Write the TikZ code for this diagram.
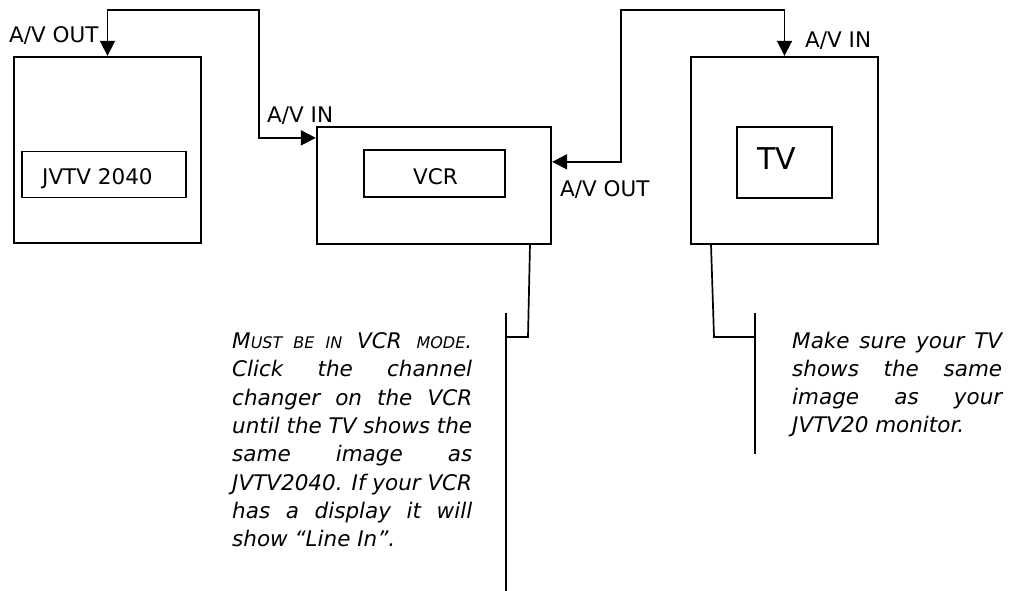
\documentclass[tikz,border=0pt]{standalone}
\usepackage{fontspec}
\setmainfont{DejaVu Sans}
\usetikzlibrary{arrows.meta,calc}
\begin{document}
\begin{tikzpicture}[x=1pt,y=-1pt,
  outerbox/.style={draw,line width=2.3pt,inner sep=0pt},
  innerbox/.style={draw,line width=1.7pt,inner sep=0pt},
  conn/.style={line width=1.7pt,{Triangle[length=15pt,width=15pt]}-{Triangle[length=15pt,width=15pt]}},
  callout/.style={line width=1.7pt},
  lbl/.style={inner sep=0pt,anchor=base west,font=\fontsize{21.5}{26}\selectfont},
  note/.style={inner sep=0pt,anchor=north west,align=justify,font=\fontsize{21.5}{28.3}\selectfont\itshape}]
\useasboundingbox (0,0) rectangle (1012,591);
% boxes
\node[outerbox,minimum width=187pt,minimum height=186pt] (src) at (107.5,150) {};
\node[innerbox,minimum width=164pt,minimum height=46pt] (srcin) at (104,174.5) {};
\node[lbl] (srct) at (42,184) {JVTV 2040};
\node[outerbox,minimum width=234pt,minimum height=117pt] (vcr) at (434,185.5) {};
\node[innerbox,minimum width=141pt,minimum height=47pt] (vcrin) at (434.5,173.5) {};
\node[lbl] (vcrt) at (413,184) {VCR};
\node[outerbox,minimum width=187pt,minimum height=187pt] (tv) at (784.5,150.5) {};
\node[innerbox,minimum width=95pt,minimum height=71pt] (tvin) at (784.5,162.5) {};
\node[lbl,font=\fontsize{30}{34}\selectfont] (tvt) at (757,169) {TV};
% labels
\node[lbl] (l1) at (9,43) {A/V OUT};
\node[lbl] (l2) at (267,123) {A/V IN};
\node[lbl] (l3) at (560,196) {A/V OUT};
\node[lbl] (l4) at (805,48) {A/V IN};
% connectors
\coordinate (vcrinpt) at ($(vcr.north west)+(0,12)$);
\coordinate (vcroutpt) at ($(vcr.north east)+(0,36)$);
\coordinate (c1) at (107.5,10);
\coordinate (c2) at (259,10);
\coordinate (c3) at (621,10);
\coordinate (c4) at (784.5,10);
\draw[conn] (src.north) -- (c1) -- (c2) |- (vcrinpt);
\draw[conn] (vcroutpt) -| (c3) -- (c4) -- (tv.north);
% callouts
\coordinate (v1) at (530,244);
\coordinate (v2) at (528,337);
\coordinate (v3) at (506,337);
\coordinate (vt) at (506,313);
\coordinate (vb) at (506,591);
\draw[callout] (v1) -- (v2) -- (v3);
\draw[callout] (vt) -- (vb);
\coordinate (t1) at (711,244);
\coordinate (t2) at (714,337);
\coordinate (t3) at (755,337);
\coordinate (tt) at (755,313);
\coordinate (tb) at (755,454);
\draw[callout] (t1) -- (t2) -- (t3);
\draw[callout] (tt) -- (tb);
% notes
\node[note,text width=240pt] (n1) at (232,332.5) {M{\fontsize{16}{28.3}\selectfont UST BE IN} VCR {\fontsize{16}{28.3}\selectfont MODE}.\linebreak
Click the channel\linebreak
changer on the VCR\linebreak
until the TV shows the\linebreak
same image as\linebreak
JVTV2040. If your VCR\linebreak
has a display it will\linebreak
show “Line In”.};
\node[note,text width=210pt] (n2) at (792,331.5) {Make sure your TV\linebreak
shows the same\linebreak
image as your\linebreak
JVTV20 monitor.};
\end{tikzpicture}
\end{document}
